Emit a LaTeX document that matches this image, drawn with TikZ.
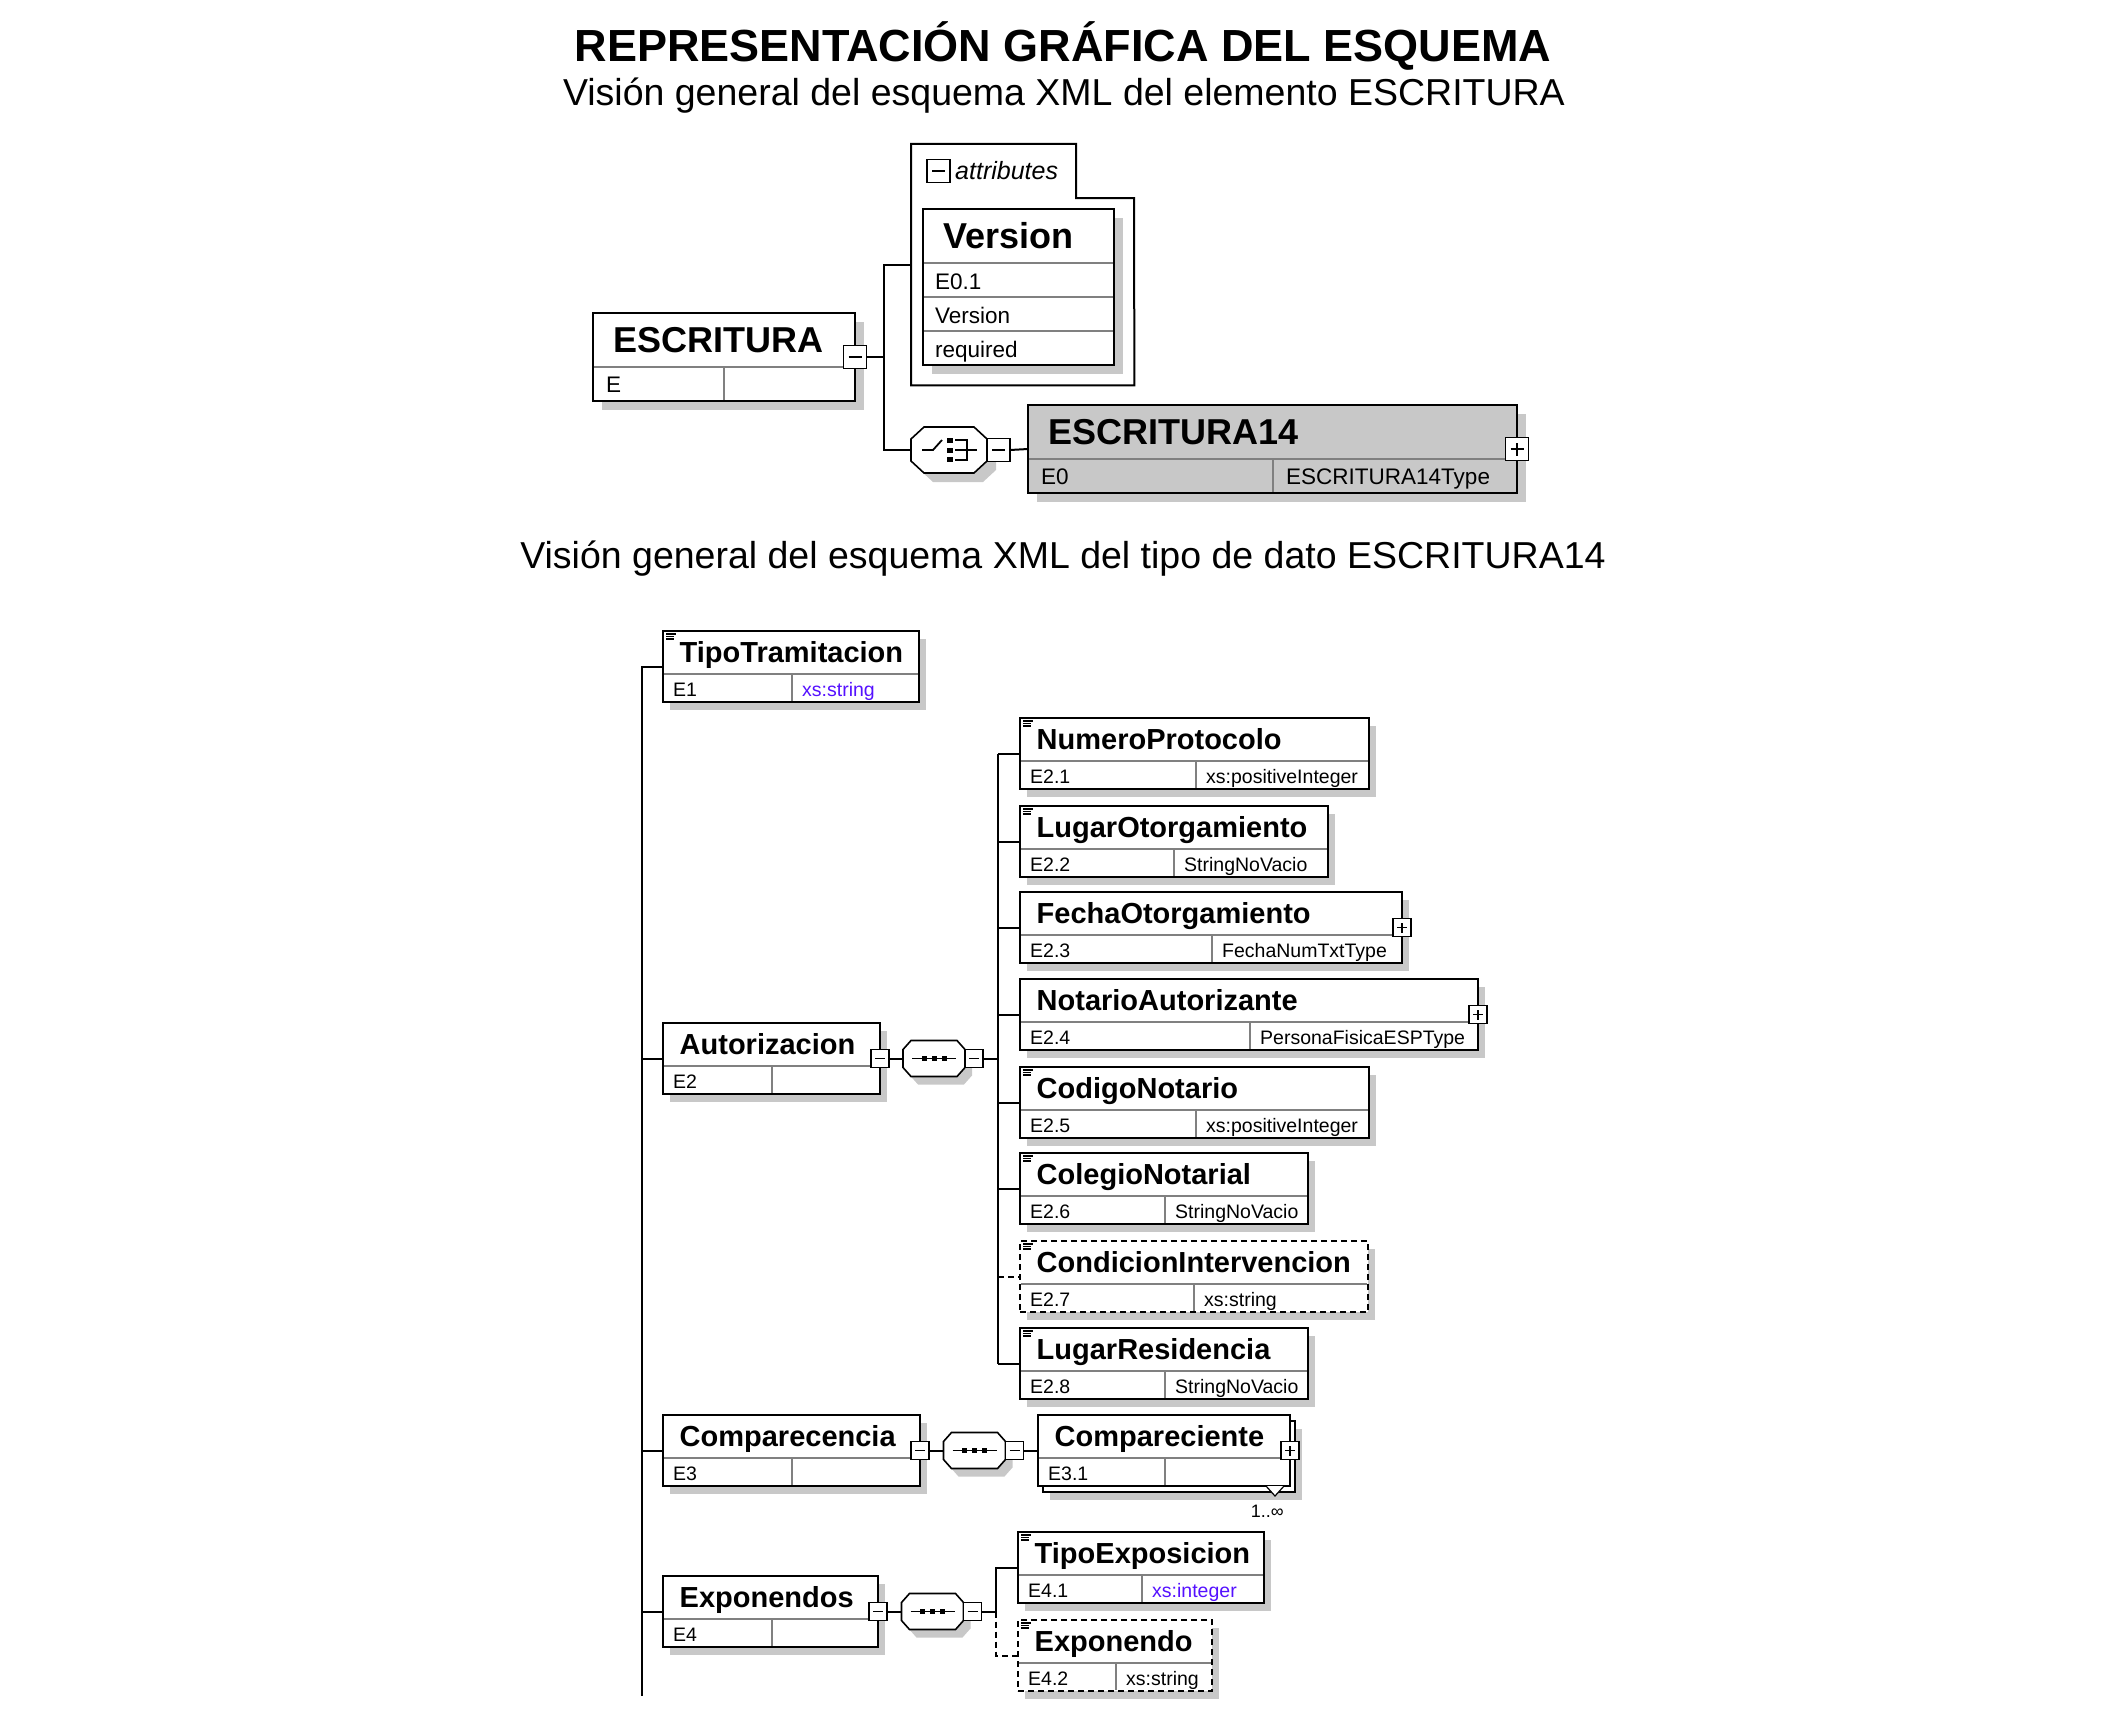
\documentclass[tikz,border=0pt]{standalone}
\usepackage{fontspec}
\setmainfont{Liberation Sans}
\usetikzlibrary{shadows,calc}
\definecolor{shgray}{RGB}{200,200,200}
\definecolor{divgray}{RGB}{128,128,128}
\definecolor{typegray}{RGB}{200,200,200}
\definecolor{xsblue}{RGB}{85,17,255}

% element box geometry (lower diagram; the upper one overrides it)
\newcommand{\boxH}{71}
\newcommand{\headH}{43}
\newcommand{\titX}{16.5}
\newcommand{\titY}{31}
\newcommand{\footX}{10}
\newcommand{\footY}{6}
\newcommand{\shX}{7}
\newcommand{\shY}{8}
\newcommand{\pmS}{18}
\newcommand{\pmI}{4}
\newcommand{\elheadfont}{\fontsize{29}{32}\selectfont\bfseries}
\newcommand{\elfootfont}{\fontsize{19.5}{22}\selectfont}

% #1 extra style, #2 name, #3 x, #4 y (top), #5 width, #6 split, #7 title, #8 id, #9 type
\newcommand{\elembox}[9][]{%
  \node[elem,#1,minimum width=#5pt,minimum height=\boxH pt] (#2) at (#3,-#4) {};
  \draw[divider] (#3+1,-#4-\headH) -- (#3+#5-1,-#4-\headH);
  \draw[divider] (#3+#6,-#4-\headH) -- (#3+#6,-#4-\boxH+1);
  \node[titletext] (#2-t) at (#3+\titX,-#4-\titY) {#7};
  \node[foottext] (#2-i) at (#3+\footX,-#4-\boxH+\footY) {#8};
  \node[foottext] (#2-y) at (#3+#6+\footX,-#4-\boxH+\footY) {#9};
}
\newcommand{\docicon}[1]{%
  \draw[iconline] ([shift={(3pt,-3pt)}]#1.north west) -- ++(10,0);
  \draw[iconline] ([shift={(3pt,-5.5pt)}]#1.north west) -- ++(8,0);
  \draw[iconline] ([shift={(3pt,-8pt)}]#1.north west) -- ++(8,0);
}
% octagon round a compositor node: #1 name, #2 corner x, #3 corner y
\newcommand{\octo}[3]{%
  \def\octpath{([xshift=#2pt]#1.north west) -- ([xshift=-#2pt]#1.north east)
    -- ([yshift=-#3pt]#1.north east) -- ([yshift=#3pt]#1.south east)
    -- ([xshift=-#2pt]#1.south east) -- ([xshift=#2pt]#1.south west)
    -- ([yshift=#3pt]#1.south west) -- ([yshift=-#3pt]#1.north west) -- cycle}
  \fill[shgray, transform canvas={shift={(\shX pt,-\shY pt)}}] \octpath;
  \filldraw[fill=white, line width=1.6pt] \octpath;
}
\newcommand{\seqsym}[1]{%
  \draw[line width=1.5pt] ([xshift=-22pt]#1.center) -- ([xshift=22pt]#1.center);
  \foreach \dx in {-10,0,10}
    \fill ([shift={(\dx-2.5,-2.5)}]#1.center) rectangle +(5,5);
}

\begin{document}
\begin{tikzpicture}[x=1pt, y=1pt,
  shd/.style={drop shadow={shadow xshift=\shX pt, shadow yshift=-\shY pt, fill=shgray, opacity=1}},
  elem/.style={draw=black, line width=2pt, fill=white, anchor=north west,
    inner sep=0pt, outer sep=0pt, shd},
  opt/.style={dash pattern=on 6pt off 4pt},
  divider/.style={draw=divgray, line width=1.6pt},
  conn/.style={draw=black, line width=2pt},
  iconline/.style={line width=1.1pt},
  titletext/.style={anchor=base west, inner sep=0pt, font=\elheadfont},
  foottext/.style={anchor=base west, inner sep=0pt, font=\elfootfont},
  subtitle/.style={anchor=base, inner sep=0pt, font=\fontsize{37.5}{42}\selectfont},
  pmbox/.style={draw=black, fill=white, line width=1.5pt, minimum size=\pmS pt,
    inner sep=0pt, outer sep=0pt},
  minusbox/.style={pmbox, path picture={\draw[line width=1.5pt]
    ([xshift=\pmI pt]path picture bounding box.west) --
    ([xshift=-\pmI pt]path picture bounding box.east);}},
  plusbox/.style={pmbox, path picture={\draw[line width=1.5pt]
    ([xshift=\pmI pt]path picture bounding box.west) --
    ([xshift=-\pmI pt]path picture bounding box.east)
    ([yshift=\pmI pt]path picture bounding box.south) --
    ([yshift=-\pmI pt]path picture bounding box.north);}},
  seq/.style={minimum width=62pt, minimum height=36pt, inner sep=0pt, outer sep=0pt},
  choice/.style={minimum width=76pt, minimum height=46pt, inner sep=0pt, outer sep=0pt}]

\fill[white] (0,0) rectangle (2126,-1734);
\useasboundingbox (0,0) rectangle (2126,-1734);

% headings
\node[anchor=base, inner sep=0pt, font=\fontsize{45}{50}\selectfont\bfseries] (title)
  at (1063,-62) {REPRESENTACIÓN GRÁFICA DEL ESQUEMA};
\node[subtitle] (sub1) at (1064,-106) {Visión general del esquema XML del elemento ESCRITURA};
\node[subtitle] (sub2) at (1063,-568) {Visión general del esquema XML del tipo de dato ESCRITURA14};

% element ESCRITURA
\begin{scope}
\renewcommand{\boxH}{88}\renewcommand{\headH}{54}
\renewcommand{\titX}{20}\renewcommand{\titY}{39}
\renewcommand{\footX}{13}\renewcommand{\footY}{9}
\renewcommand{\shX}{9}\renewcommand{\shY}{9}
\renewcommand{\pmS}{23}\renewcommand{\pmI}{5}
\renewcommand{\elheadfont}{\fontsize{36}{40}\selectfont\bfseries}
\renewcommand{\elfootfont}{\fontsize{22.5}{25}\selectfont}

\elembox{esc}{593}{313}{262}{131}{ESCRITURA}{E}{}
\node[minusbox] (escm) at (esc.east) {};

% attributes
\node[anchor=north west, inner sep=0pt, minimum width=223pt, minimum height=241pt] (attrs) at (911,-144) {};
\draw[conn] (attrs.north west) -- (1076,-144) -- (1076,-198) -- (1134,-198)
  -- (attrs.south east) -- (attrs.south west) -- cycle;
\node[minusbox] (attrm) at (938.5,-171) {};
\node[anchor=base west, inner sep=0pt, font=\fontsize{25}{28}\selectfont\itshape] (attrl)
  at (955,-179) {attributes};
\node[elem, minimum width=191pt, minimum height=156pt] (ver) at (923,-209) {};
\draw[divider] (924,-263) -- (1113,-263);
\draw[divider] (924,-297) -- (1113,-297);
\draw[divider] (924,-331) -- (1113,-331);
\node[titletext] (ver-t) at (943,-248) {Version};
\node[foottext] (ver-1) at (935,-289) {E0.1};
\node[foottext] (ver-2) at (935,-323) {Version};
\node[foottext] (ver-3) at (935,-357) {required};

% choice
\node[choice] (ch) at (949,-450) {};
\octo{ch}{13}{12}
\begin{scope}[shift={(ch.center)}, line width=1.8pt]
  \draw (-27,0) -- (-16,0) -- (-7,10);
  \fill (-2,7) rectangle (4,12);
  \fill (-2,-2.5) rectangle (4,2.5);
  \fill (-2,-12) rectangle (4,-7);
  \draw (6,10) -- (18,10) -- (18,-10) -- (6,-10);
  \draw (6,0) -- (28,0);
\end{scope}
\node[minusbox, anchor=west] (chm) at (ch.east) {};

\elembox[fill=typegray]{e14}{1028}{405}{489}{245}{ESCRITURA14}{E0}{ESCRITURA14Type}
\node[plusbox] (e14p) at (e14.east) {};

\coordinate (bus0) at (884,-265);
\draw[conn] (escm.east) -- (escm.east -| bus0);
\draw[conn] (attrs.west) -- (attrs.west -| bus0) -- (ch.west -| bus0) -- (ch.west);
\draw[conn] (chm.east) -- (e14.west);
\end{scope}

% type ESCRITURA14
\elembox{tt}{663}{631}{256}{129}{TipoTramitacion}{E1}{\color{xsblue}xs:string}
\docicon{tt}

\elembox{aut}{663}{1023}{217}{109}{Autorizacion}{E2}{}
\node[minusbox] (autm) at (aut.east) {};
\node[seq] (autseq) at ([xshift=54pt]aut.east) {};
\octo{autseq}{8}{9}
\seqsym{autseq}
\node[minusbox, anchor=west] (autsm) at (autseq.east) {};

\elembox{np}{1020}{718}{349}{176}{NumeroProtocolo}{E2.1}{xs:positiveInteger}
\docicon{np}
\elembox{lo}{1020}{806}{308}{154}{LugarOtorgamiento}{E2.2}{StringNoVacio}
\docicon{lo}
\elembox{fo}{1020}{892}{382}{192}{FechaOtorgamiento}{E2.3}{FechaNumTxtType}
\node[plusbox] (fop) at (fo.east) {};
\elembox{na}{1020}{979}{458}{230}{NotarioAutorizante}{E2.4}{PersonaFisicaESPType}
\node[plusbox] (nap) at (na.east) {};
\elembox{cn}{1020}{1067}{349}{176}{CodigoNotario}{E2.5}{xs:positiveInteger}
\docicon{cn}
\elembox{cl}{1020}{1153}{288}{145}{ColegioNotarial}{E2.6}{StringNoVacio}
\docicon{cl}
\elembox[opt]{ci}{1020}{1241}{348}{174}{CondicionIntervencion}{E2.7}{xs:string}
\docicon{ci}
\elembox{lr}{1020}{1328}{288}{145}{LugarResidencia}{E2.8}{StringNoVacio}
\docicon{lr}

\elembox{cmp}{663}{1415}{257}{129}{Comparecencia}{E3}{}
\node[minusbox] (cmpm) at (cmp.east) {};
\node[seq] (cmpseq) at ([xshift=54.5pt]cmp.east) {};
\octo{cmpseq}{8}{9}
\seqsym{cmpseq}
\node[minusbox, anchor=west] (cmpsm) at (cmpseq.east) {};

% repeated element: stacked box
\node[elem, minimum width=252pt, minimum height=71pt] (cpb) at (1043,-1421) {};
\begin{scope}[shd/.style={}]
\elembox{cp}{1038}{1415}{252}{127}{Compareciente}{E3.1}{}
\end{scope}
\node[plusbox] (cpp) at (cp.east) {};
\filldraw[fill=white, line width=1.2pt] (1266,-1486) -- (1275,-1496) -- (1284,-1486);
\node[anchor=base east, inner sep=0pt, font=\fontsize{18}{20}\selectfont] (cpocc)
  at (1284,-1517) {1..∞};

\elembox{exs}{663}{1576}{215}{109}{Exponendos}{E4}{}
\node[minusbox] (exsm) at (exs.east) {};
\node[seq] (exsseq) at ([xshift=54.5pt]exs.east) {};
\octo{exsseq}{8}{9}
\seqsym{exsseq}
\node[minusbox, anchor=west] (exssm) at (exsseq.east) {};

\elembox{te}{1018}{1532}{246}{124}{TipoExposicion}{E4.1}{\color{xsblue}xs:integer}
\docicon{te}
\elembox[opt]{ep}{1018}{1620}{194}{98}{Exponendo}{E4.2}{xs:string}
\docicon{ep}

% connectors
\coordinate (bus1) at (642,-1696);
\draw[conn] (tt.west) -- (tt.west -| bus1) -- (bus1);
\foreach \c in {aut,cmp,exs}
  \draw[conn] (\c.west -| bus1) -- (\c.west);

\coordinate (bus2) at (998,-753);
\draw[conn] (autm.east) -- (autseq.west);
\draw[conn] (autsm.east) -- (autsm.east -| bus2);
\draw[conn] (np.west -| bus2) -- (lr.west -| bus2);
\foreach \c in {np,lo,fo,na,cn,cl,lr}
  \draw[conn] (\c.west -| bus2) -- (\c.west);
\draw[conn,opt] (ci.west -| bus2) -- (ci.west);

\draw[conn] (cmpm.east) -- (cmpseq.west);
\draw[conn] (cmpsm.east) -- (cp.west);

\coordinate (bus3) at (996,-1568);
\draw[conn] (exsm.east) -- (exsseq.west);
\draw[conn] (exssm.east) -- (exssm.east -| bus3);
\draw[conn] (te.west) -- (te.west -| bus3) -- (exssm.east -| bus3);
\draw[conn,opt] (exssm.east -| bus3) -- (ep.west -| bus3) -- (ep.west);

\end{tikzpicture}
\end{document}
